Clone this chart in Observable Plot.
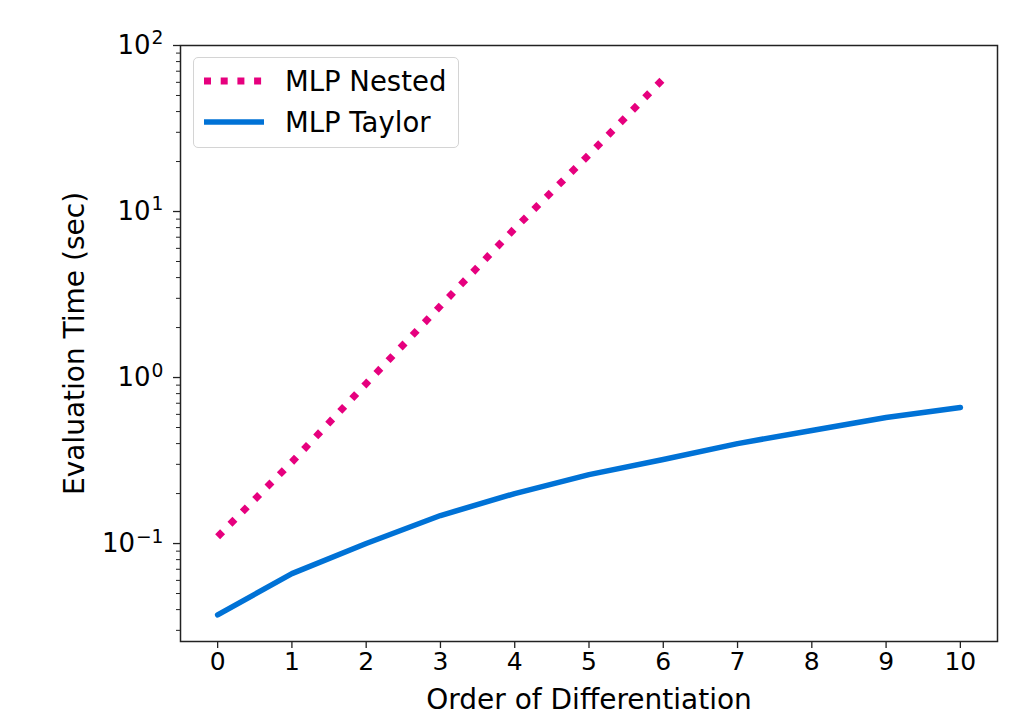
<!DOCTYPE html>
<html><head><meta charset="utf-8">
<script src="https://cdn.jsdelivr.net/npm/d3@7"></script>
<script src="https://cdn.jsdelivr.net/npm/@observablehq/plot@0.6"></script>
<style>
body{margin:0;background:#fff;font-family:"DejaVu Sans",sans-serif}
#wrap{position:relative;width:1010px;height:715px}
#legend{position:absolute;left:193px;top:57px;width:266px;height:91px;border:1.5px solid #d4d4d4;border-radius:5px;background:rgba(255,255,255,0.85);box-sizing:border-box}
.row{position:absolute;left:0;height:30px;display:flex;align-items:center}
.row svg{margin-left:9px;margin-right:20px}
.row span{font-size:27.5px;color:#000;white-space:nowrap}
</style></head><body>
<div id="wrap"></div>
<script>
const orders = [0,1,2,3,4,5,6,7,8,9,10];
const nestedOrders = [0,1,2,3,4,5,6];
const nestedTimes = [0.110,0.31,0.92,2.7,7.9,22,63];
const taylorTimes = [0.0372,0.0659,0.100,0.1475,0.200,0.260,0.321,0.400,0.480,0.574,0.660];
const seriesNames = ["MLP Nested","MLP Taylor"];
const seriesColors = ["#e6007e","#0072d6"];
const xTicks = [0,1,2,3,4,5,6,7,8,9,10];
const yMajorTicks = [0.1,1,10,100];
const yTickBase = "10";
const yTickExponents = ["−1","0","1","2"];
const xLabel = "Order of Differentiation";
const yLabel = "Evaluation Time (sec)";

const yDomain = [Math.pow(10,-1.59), 100];
const yMinorTicks = [-2,-1,0,1].flatMap(e => [2,3,4,5,6,7,8,9].map(k => k*Math.pow(10,e)))
  .filter(v => v >= yDomain[0] && v <= yDomain[1]);

const nested = nestedOrders.map((o,i) => ({order:o, time:nestedTimes[i]}));
const taylor = orders.map((o,i) => ({order:o, time:taylorTimes[i]}));

const chart = Plot.plot({
  width:1010, height:715,
  marginLeft:180, marginRight:13, marginTop:45, marginBottom:74,
  style:{fontFamily:"DejaVu Sans", color:"#000", background:"#fff"},
  x:{domain:[-0.5,10.5]},
  y:{type:"log", domain:yDomain},
  marks:[
    Plot.line(taylor,{x:"order",y:"time",stroke:seriesColors[1],strokeWidth:5.5,strokeLinejoin:"round"}),
    Plot.line(nested,{x:"order",y:"time",stroke:seriesColors[0],strokeWidth:7,strokeDasharray:"7,10.5",strokeLinecap:"butt"}),
    Plot.frame({stroke:"#222",strokeWidth:1.5}),
    Plot.axisX({ticks:xTicks,tickSize:7,tickPadding:4,fontSize:25,label:null,stroke:"#222",strokeWidth:1.3,tickFormat:d=>String(d)}),
    Plot.axisY({ticks:yMajorTicks,tickSize:7,tickPadding:10,fontSize:26,label:null,stroke:"#222",strokeWidth:1.3,
      tickFormat:d=>yTickBase+"^"+yTickExponents[yMajorTicks.indexOf(d)]}),
    Plot.axisY({ticks:yMinorTicks,tickSize:4,tickFormat:()=>"",label:null,stroke:"#222",strokeWidth:1}),
    Plot.text([xLabel],{frameAnchor:"bottom",dy:59,lineAnchor:"middle",textAnchor:"middle",fontSize:28,fill:"#000"}),
    Plot.text([yLabel],{frameAnchor:"left",dx:-105,rotate:-90,lineAnchor:"middle",textAnchor:"middle",fontSize:28,fill:"#000"})
  ]
});

// render exponents as real superscript tspans
chart.querySelectorAll("text").forEach(t => {
  const s = t.textContent;
  if (s.includes("^") && t.children.length === 0) {
    const [base, exp] = s.split("^");
    t.textContent = base;
    const ts = document.createElementNS("http://www.w3.org/2000/svg","tspan");
    ts.setAttribute("font-size","0.72em");
    ts.setAttribute("dy","-0.5em");
    ts.setAttribute("dx","0.05em");
    ts.textContent = exp;
    t.appendChild(ts);
  }
});

const wrap = document.getElementById("wrap");
wrap.appendChild(chart);

const legend = document.createElement("div");
legend.id = "legend";
seriesNames.forEach((name,i) => {
  const row = document.createElement("div");
  row.className = "row";
  row.style.top = (i === 0 ? 8 : 49) + "px";
  const dash = i === 0 ? 'stroke-dasharray="7,9.7"' : '';
  const sw = i === 0 ? 7 : 5.5;
  row.innerHTML = `<svg width="62" height="20"><line x1="1" y1="10" x2="61" y2="10" stroke="${seriesColors[i]}" stroke-width="${sw}" ${dash}/></svg><span>${name}</span>`;
  legend.appendChild(row);
});
wrap.appendChild(legend);
</script>
</body></html>
